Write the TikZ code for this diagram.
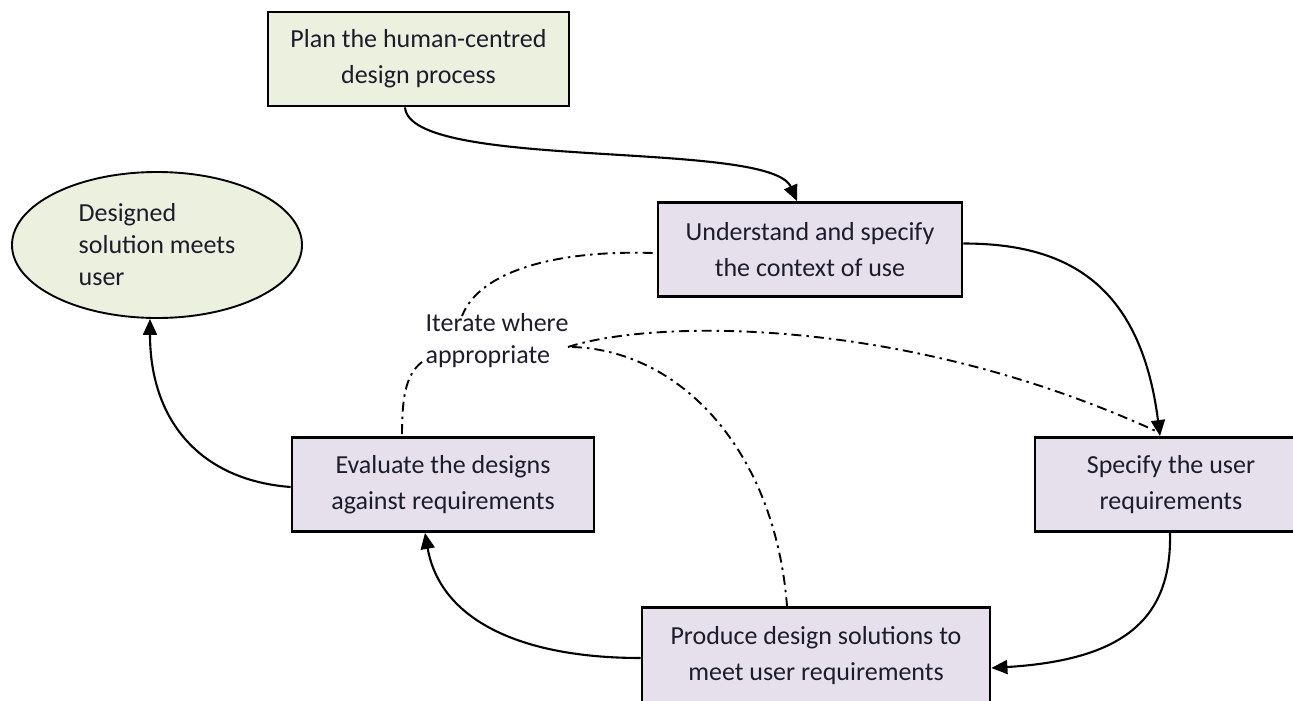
\documentclass[tikz,border=0pt]{standalone}
\usepackage{fontspec}
\setmainfont{Carlito}
\usetikzlibrary{arrows.meta,shapes.geometric,calc}
\definecolor{planfill}{HTML}{EBF1DE}
\definecolor{stepfill}{HTML}{E5E0EC}
\definecolor{txt}{HTML}{1C1C2C}
\begin{document}
\begin{tikzpicture}[x=1pt,y=-1pt,
  box/.style={draw=black,line width=2.8pt,fill=stepfill,align=center,inner sep=0pt,
    text=txt,font=\fontsize{26}{36}\selectfont,minimum height=94pt},
  flow/.style={line width=2.1pt,-{Triangle[length=16pt,width=14pt]}},
  iter/.style={line width=1.9pt,dash pattern=on 10pt off 5pt on 2.5pt off 5pt}]
\useasboundingbox (0,0) rectangle (1293,701);
% nodes
\node[box,fill=planfill,minimum width=301pt] (plan) at (418.5,59) {Plan the human-centred\\design process};
\node[box,minimum width=304pt] (und) at (810,249.5) {Understand and specify\\the context of use};
\node[box,minimum width=300pt] (spec) at (1185,484.5)
  {\begin{tabular}{@{}c@{}}Specify the user\\requirements\end{tabular}\hspace*{28pt}};
\node[box,minimum width=348pt,minimum height=97pt] (prod) at (816,656) {Produce design solutions to\\meet user requirements};
\node[box,minimum width=302pt] (eval) at (443,484.5) {Evaluate the designs\\against requirements};
\node[draw=black,ellipse,line width=1.9pt,fill=planfill,minimum width=290pt,minimum height=146pt,
  inner sep=0pt,align=left,text=txt,font=\fontsize{26}{32}\selectfont] (goal) at (157,245)
  {Designed\\solution meets\\user};
\node[align=left,inner sep=0pt,text=txt,font=\fontsize{26}{32}\selectfont] (lbl) at (497,341)
  {Iterate where\\appropriate};
% free ends at the label
\coordinate (lblT) at (462,316);
\coordinate (lblL) at (422,362);
\coordinate (lblR) at (568,347);
\coordinate (lblR2) at (572,347);
% main cycle
\draw[flow] ([xshift=-13.5pt]plan.south) .. controls +(5,64) and +(-27,-62) .. ([xshift=-13pt]und.north);
\draw[flow] ([yshift=6pt]und.east) .. controls +(98,0) and +(-20,-157) .. ([xshift=-25pt]spec.north);
\draw[flow] ([xshift=-15pt]spec.south) .. controls +(2,88) and +(130,-8) .. ([yshift=-12pt]prod.east);
\draw[flow] ([yshift=-2pt]prod.west) .. controls +(-122,0) and +(15,86) .. ([xshift=-18pt]eval.south);
\draw[flow] ([yshift=-2.5pt]eval.west) .. controls +(-92,-7) and +(0,100) .. ([xshift=-7pt]goal.south);
% iteration paths
\draw[iter] ([xshift=-4pt,yshift=-3.5pt]und.west) .. controls +(-94,-3) and +(18,-46) .. (lblT);
\draw[iter] (lblL) .. controls +(-17,13) and +(0,-37) .. ([xshift=-41pt]eval.north);
\draw[iter] (lblR) .. controls +(82,-27) and +(-256,-117) .. ([xshift=-29pt,yshift=5pt]spec.north);
\draw[iter] (lblR2) .. controls +(108,3) and +(-12,-156) .. ([xshift=-29pt]prod.north);
\end{tikzpicture}
\end{document}
